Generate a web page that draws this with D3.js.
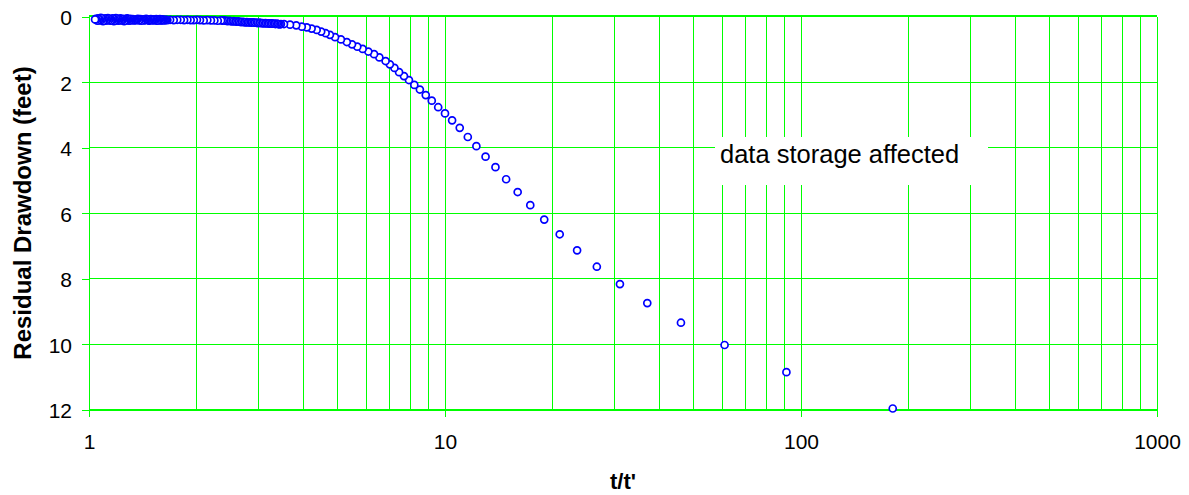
<!DOCTYPE html>
<meta charset="utf-8">
<style>
body { margin: 0; background: #fff; }
svg { display: block; font-family: Arial, "Liberation Sans", sans-serif; }
.grid line { stroke: #00ff00; stroke-width: 1; shape-rendering: crispEdges; }
.axis path, .axis line { stroke: #00ff00; shape-rendering: crispEdges; }
.axis text { font-size: 21px; fill: #000; }
.title { font-size: 22px; font-weight: bold; fill: #000; }
.ytitle { font-size: 24px; }
.note { font-size: 25.5px; fill: #000; }
.pt { fill: #fff; stroke: #0000ff; stroke-width: 1.7; }
</style>
<body>
<script src="https://d3js.org/d3.v7.min.js"></script>
<script>

// t/t' (time order, late recovery last)
var tRatio = [181, 91, 61, 46, 37, 31, 26.7, 23.5, 21.0, 19.0,
  17.36, 16.0, 14.85, 13.86, 13.0, 12.25, 11.59, 11.0, 10.47, 10.0,
  9.57, 9.18, 8.83, 8.5, 8.2, 7.92, 7.67, 7.43, 7.21, 7.0,
  6.81, 6.54, 6.32, 6.09, 5.87, 5.67, 5.48, 5.30, 5.10, 4.91,
  4.75, 4.62, 4.49, 4.36, 4.22, 4.09, 3.96, 3.82, 3.67, 3.53,
  3.46, 3.43, 3.40, 3.37, 3.34, 3.31, 3.28, 3.25, 3.22, 3.19,
  3.16, 3.13, 3.10, 3.07, 3.04, 3.01, 2.98, 2.95, 2.92, 2.89,
  2.86, 2.83, 2.80,
  2.775, 2.75, 2.725, 2.70, 2.675, 2.65, 2.625, 2.60, 2.575, 2.55,
  2.525, 2.50, 2.475, 2.45, 2.425, 2.40, 2.375, 2.35,
  2.30, 2.25, 2.20, 2.15, 2.10, 2.05, 2.01, 1.97, 1.93, 1.89,
  1.85, 1.81, 1.77, 1.73, 1.69,
  1.66, 1.65, 1.64, 1.63, 1.62, 1.612, 1.605, 1.597, 1.59, 1.582,
  1.575, 1.567, 1.56, 1.552, 1.545, 1.537, 1.53, 1.522, 1.515, 1.507,
  1.50, 1.492, 1.485, 1.477, 1.47, 1.462, 1.455, 1.447, 1.44, 1.432,
  1.425, 1.417, 1.41, 1.402, 1.395, 1.387, 1.38, 1.372, 1.365, 1.357,
  1.35, 1.342, 1.335, 1.327, 1.32,
  1.315, 1.31, 1.305, 1.30, 1.295, 1.29, 1.285, 1.28, 1.275, 1.27,
  1.265, 1.26, 1.255, 1.25, 1.245, 1.24, 1.235, 1.23, 1.225, 1.22,
  1.215, 1.21, 1.205, 1.20, 1.195, 1.19, 1.185, 1.18, 1.175, 1.17,
  1.165, 1.16, 1.155, 1.15, 1.145, 1.14, 1.135, 1.13, 1.125, 1.12,
  1.115, 1.11, 1.105, 1.10, 1.095, 1.09, 1.085, 1.08, 1.075, 1.07,
  1.065, 1.06, 1.055, 1.05, 1.045, 1.04];

// residual drawdown (feet)
var drawdown = [11.97, 10.86, 10.03, 9.35, 8.75, 8.17, 7.64, 7.14, 6.65, 6.20,
  5.76, 5.36, 4.97, 4.60, 4.28, 3.96, 3.68, 3.40, 3.17, 2.96,
  2.77, 2.57, 2.40, 2.23, 2.09, 1.94, 1.82, 1.70, 1.57, 1.46,
  1.36, 1.25, 1.15, 1.07, 0.99, 0.92, 0.85, 0.78, 0.70, 0.63,
  0.56, 0.51, 0.46, 0.41, 0.37, 0.33, 0.31, 0.27, 0.25, 0.23,
  0.23, 0.24, 0.23, 0.22, 0.23, 0.22, 0.22, 0.21, 0.22, 0.21,
  0.21, 0.20, 0.21, 0.20, 0.20, 0.19, 0.20, 0.19, 0.19, 0.18,
  0.19, 0.18, 0.18,
  0.17, 0.18, 0.17, 0.16, 0.17, 0.16, 0.15, 0.16, 0.15, 0.14,
  0.15, 0.14, 0.13, 0.14, 0.13, 0.12, 0.13, 0.12,
  0.13, 0.12, 0.12, 0.11, 0.12, 0.11, 0.10, 0.11, 0.11, 0.10,
  0.11, 0.10, 0.10, 0.11, 0.10,
  0.11, 0.10, 0.10, 0.12, 0.11, 0.09, 0.10, 0.12, 0.12, 0.08,
  0.10, 0.11, 0.11, 0.13, 0.08, 0.10, 0.10, 0.12, 0.09, 0.11,
  0.11, 0.08, 0.09, 0.13, 0.12, 0.10, 0.09, 0.07, 0.10, 0.12,
  0.11, 0.09, 0.10, 0.13, 0.08, 0.10, 0.12, 0.07, 0.09, 0.11,
  0.10, 0.12, 0.11, 0.08, 0.09,
  0.12, 0.10, 0.07, 0.11, 0.13, 0.09, 0.10, 0.06, 0.11, 0.08,
  0.12, 0.10, 0.14, 0.07, 0.09, 0.11, 0.08, 0.12, 0.06, 0.10,
  0.09, 0.13, 0.07, 0.11, 0.10, 0.05, 0.12, 0.08, 0.14, 0.09,
  0.06, 0.11, 0.10, 0.13, 0.07, 0.09, 0.12, 0.05, 0.10, 0.08,
  0.13, 0.06, 0.11, 0.09, 0.14, 0.07, 0.10, 0.04, 0.12, 0.08,
  0.11, 0.06, 0.13, 0.09, 0.07, 0.09];

var xMajor = [1, 10, 100, 1000];
var xGrid = [1, 2, 3, 4, 5, 6, 7, 8, 9, 10, 20, 30, 40, 50, 60, 70, 80, 90, 100,
  200, 300, 400, 500, 600, 700, 800, 900, 1000];
var yTicks = [0, 2, 4, 6, 8, 10, 12];

var W = 1189, H = 495;
var pLeft = 89, pRight = 1157, pTop = 16.5, pBottom = 409.5;

var x = d3.scaleLog().domain([1, 1000]).range([pLeft, pRight]);
var y = d3.scaleLinear().domain([0, 12]).range([pTop, pBottom]);

var svg = d3.select("body").append("svg")
    .attr("width", W)
    .attr("height", H);

// grid
var grid = svg.append("g").attr("class", "grid");
grid.selectAll(".v").data(xGrid).enter().append("line")
    .attr("x1", function(d) { return x(d); })
    .attr("x2", function(d) { return x(d); })
    .attr("y1", pTop).attr("y2", pBottom);
grid.selectAll(".h").data(yTicks).enter().append("line")
    .attr("x1", pLeft).attr("x2", pRight)
    .attr("y1", function(d) { return y(d); })
    .attr("y2", function(d) { return y(d); });
grid.append("line").attr("x1", pLeft).attr("x2", pRight).attr("y1", pTop - 1).attr("y2", pTop - 1);

// axes
var yAxis = svg.append("g")
    .attr("class", "axis")
    .attr("transform", "translate(" + pLeft + ",0)")
    .call(d3.axisLeft(y).tickValues(yTicks).tickSize(7).tickPadding(10).tickSizeOuter(0));
yAxis.selectAll("text").attr("dy", "0.4em");

var xAxis = svg.append("g")
    .attr("class", "axis")
    .attr("transform", "translate(0," + pBottom + ")")
    .call(d3.axisBottom(x).tickValues(xMajor).tickFormat(d3.format("d")).tickSize(7).tickSizeOuter(0));
xAxis.selectAll("text").attr("y", 31.5).attr("dy", "0.36em");

// annotation box
svg.append("rect")
    .attr("x", 715).attr("y", 137)
    .attr("width", 273).attr("height", 48)
    .attr("fill", "#fff");
svg.append("text")
    .attr("class", "note")
    .attr("x", 720).attr("y", 163)
    .text("data storage affected");

// points
var data = d3.zip(tRatio, drawdown);
svg.append("g").selectAll("circle")
    .data(data)
  .enter().append("circle")
    .attr("class", "pt")
    .attr("cx", function(d) { return x(d[0]); })
    .attr("cy", function(d) { return y(d[1]); })
    .attr("r", 3.5);

// titles
svg.append("text")
    .attr("class", "title ytitle")
    .attr("text-anchor", "middle")
    .attr("dominant-baseline", "central")
    .attr("transform", "translate(22," + (pTop + pBottom) / 2 + ") rotate(-90)")
    .text("Residual Drawdown (feet)");

svg.append("text")
    .attr("class", "title")
    .attr("text-anchor", "middle")
    .attr("dominant-baseline", "central")
    .attr("x", (pLeft + pRight) / 2)
    .attr("y", 481)
    .text("t/t'");

</script>
</body>
